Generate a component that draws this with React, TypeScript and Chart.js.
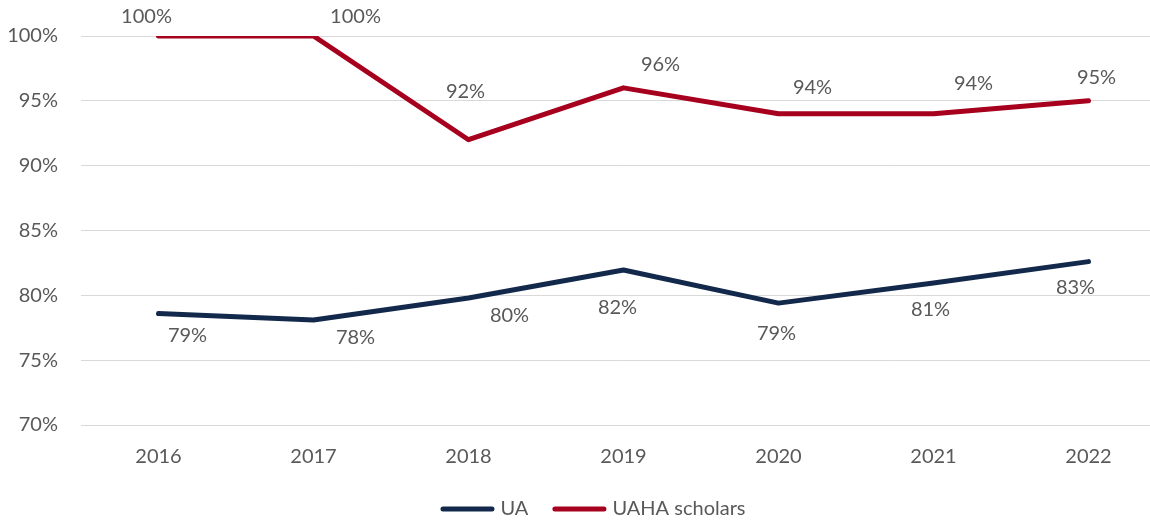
import React, { useEffect, useRef } from "react";
import { Chart, registerables } from "chart.js";

Chart.register(...registerables);

const years = ["2016", "2017", "2018", "2019", "2020", "2021", "2022"];
const uaValues = [78.6, 78.1, 79.8, 81.95, 79.4, 80.95, 82.6];
const scholarValues = [100, 100, 92, 96, 94, 94, 95];
const yMin = 70;
const yMax = 100;
const yStep = 5;

const FONT = "Lato, 'Open Sans', sans-serif";
const FONT_SIZE = 20;
const TEXT = "#595959";
const NAVY = "#13294B";
const RED = "#A6001E";

// label offsets (pixels, relative to each point) per dataset
const LABEL_OFFSETS = [
  [[29, 22], [42, 18], [41, 18], [-6, 37], [-2, 30], [-3, 27], [-13, 26]],
  [[-12, -19], [42, -19], [-3, -48], [37, -23], [34, -26], [40, -30], [8, -23]],
];

const valueLabels = {
  id: "valueLabels",
  afterDatasetsDraw(chart: any) {
    const ctx = chart.ctx;
    ctx.save();
    ctx.font = `${FONT_SIZE}px ${FONT}`;
    ctx.fillStyle = TEXT;
    ctx.textAlign = "center";
    ctx.textBaseline = "middle";
    chart.data.datasets.forEach((ds: any, i: number) => {
      const meta = chart.getDatasetMeta(i);
      meta.data.forEach((pt: any, j: number) => {
        const [dx, dy] = LABEL_OFFSETS[i][j];
        ctx.fillText(Math.round(ds.data[j]) + "%", pt.x + dx, pt.y + dy);
      });
    });
    ctx.restore();
  },
};

const customLegend = {
  id: "customLegend",
  afterDraw(chart: any) {
    const ctx = chart.ctx;
    ctx.save();
    ctx.font = `${FONT_SIZE}px ${FONT}`;
    const lineLen = 54;
    const gapText = 6;
    const gapItems = 24;
    const items = chart.data.datasets.map((ds: any) => ({
      label: ds.label,
      color: ds.borderColor,
      w: ctx.measureText(ds.label).width,
    }));
    const total =
      items.reduce((s: number, it: any) => s + lineLen + gapText + it.w, 0) +
      gapItems * (items.length - 1);
    let x = chart.width / 2 - total / 2;
    const y = 509;
    items.forEach((it: any) => {
      ctx.strokeStyle = it.color;
      ctx.lineWidth = 5;
      ctx.lineCap = "round";
      ctx.beginPath();
      ctx.moveTo(x + 2.5, y);
      ctx.lineTo(x + lineLen - 2.5, y);
      ctx.stroke();
      x += lineLen + gapText;
      ctx.fillStyle = TEXT;
      ctx.textAlign = "left";
      ctx.textBaseline = "middle";
      ctx.fillText(it.label, x, y);
      x += it.w + gapItems;
    });
    ctx.restore();
  },
};

export default function App() {
  const ref = useRef<HTMLCanvasElement>(null);

  useEffect(() => {
    const chart = new Chart(ref.current as HTMLCanvasElement, {
      type: "line",
      data: {
        labels: years,
        datasets: [
          {
            label: "UA",
            data: uaValues,
            borderColor: NAVY,
            backgroundColor: NAVY,
            borderWidth: 5,
            borderCapStyle: "round",
            borderJoinStyle: "round",
            pointRadius: 0,
            tension: 0,
          },
          {
            label: "UAHA scholars",
            data: scholarValues,
            borderColor: RED,
            backgroundColor: RED,
            borderWidth: 5,
            borderCapStyle: "round",
            borderJoinStyle: "round",
            pointRadius: 0,
            tension: 0,
          },
        ],
      },
      options: {
        responsive: false,
        animation: false,
        devicePixelRatio: 1,
        layout: { padding: { top: 36, right: 20, bottom: 0, left: 0 } },
        plugins: {
          legend: { display: false },
          tooltip: { enabled: false },
        },
        scales: {
          x: {
            type: "category",
            offset: true,
            grid: { display: false },
            border: { display: false },
            ticks: {
              font: { family: FONT, size: FONT_SIZE },
              color: TEXT,
              padding: 12,
              maxRotation: 0,
            },
            afterFit(scale: any) {
              scale.height = 98;
            },
          },
          y: {
            min: yMin,
            max: yMax,
            grid: { color: "#D9D9D9", lineWidth: 1, drawTicks: false },
            border: { display: false },
            ticks: {
              stepSize: yStep,
              font: { family: FONT, size: FONT_SIZE },
              color: TEXT,
              padding: 23,
              callback: (v: any) => v + "%",
            },
            afterFit(scale: any) {
              scale.width = 81;
            },
          },
        },
      },
      plugins: [valueLabels, customLegend],
    } as any);
    return () => chart.destroy();
  }, []);

  return (
    <div
      style={{
        position: "fixed",
        left: 0,
        top: 0,
        width: 1150,
        height: 523,
        overflow: "hidden",
        background: "#fff",
      }}
    >
      <canvas
        ref={ref}
        width={1186}
        height={523}
        style={{ display: "block", width: 1186, height: 523 }}
      />
    </div>
  );
}
